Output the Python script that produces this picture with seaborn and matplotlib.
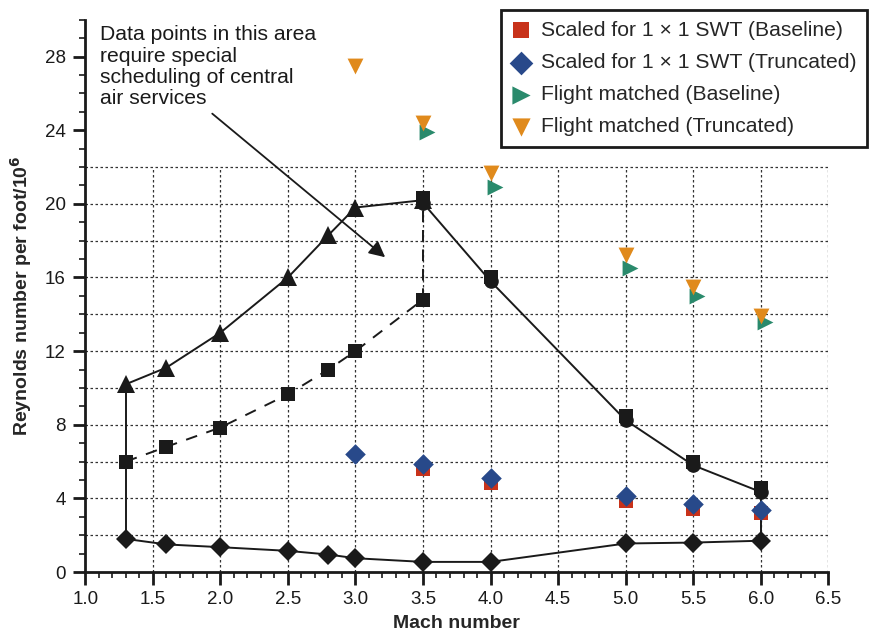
import numpy as np
import matplotlib
matplotlib.use("Agg")
import matplotlib.pyplot as plt
import seaborn as sns
from matplotlib.ticker import MultipleLocator

# boundary curves
mach_low = [1.3, 1.6, 2.0, 2.5, 2.8, 3.0, 3.5, 4.0, 5.0, 5.5, 6.0]
re_low = [1.8, 1.5, 1.35, 1.15, 0.95, 0.75, 0.55, 0.55, 1.55, 1.6, 1.7]

mach_tri = [1.3, 1.6, 2.0, 2.5, 2.8, 3.0, 3.5]
re_tri = [10.2, 11.1, 13.0, 16.0, 18.3, 19.8, 20.2]

mach_sq = [1.3, 1.6, 2.0, 2.5, 2.8, 3.0, 3.5]
re_sq = [6.0, 6.8, 7.85, 9.65, 11.0, 12.0, 14.8]

mach_high = [3.5, 4.0, 5.0, 5.5, 6.0]
re_high_sq = [20.3, 16.05, 8.5, 6.0, 4.55]
re_high_circ = [20.05, 15.8, 8.25, 5.8, 4.35]

# scattered series
mach_sb = [3.5, 4.0, 5.0, 5.5, 6.0]
re_sb = [5.6, 4.85, 3.85, 3.4, 3.2]
mach_st = [3.0, 3.5, 4.0, 5.0, 5.5, 6.0]
re_st = [6.4, 5.85, 5.1, 4.15, 3.7, 3.35]
mach_fb = [3.5, 4.0, 5.0, 5.5, 6.0]
re_fb = [23.9, 20.9, 16.5, 15.0, 13.6]
mach_ft = [3.0, 3.5, 4.0, 5.0, 5.5, 6.0]
re_ft = [27.5, 24.4, 21.7, 17.2, 15.5, 13.9]

note = "Data points in this area\nrequire special\nscheduling of central\nair services"

sns.set_style("ticks")
plt.rcParams["font.family"] = ["Liberation Sans", "DejaVu Sans"]

fig = plt.figure(figsize=(8.7, 6.37), dpi=100)
ax = fig.add_axes([0.098, 0.102, 0.854, 0.867])

# clipped dotted grid
ax.hlines(np.arange(2, 23, 2), 1.0, 6.5, colors="#333333", linestyles=(0, (2, 2)), lw=0.9, zorder=1)
ax.vlines(np.arange(1.5, 6.6, 0.5), 0, 22, colors="#333333", linestyles=(0, (2, 2)), lw=0.9, zorder=1)

k = "#1a1a1a"
lw = 1.4
sns.lineplot(x=mach_low, y=re_low, ax=ax, color=k, lw=lw, marker="D", markersize=10,
             markeredgewidth=0, sort=False, zorder=3)
sns.lineplot(x=mach_tri, y=re_tri, ax=ax, color=k, lw=lw, marker="^", markersize=12.5,
             markeredgewidth=0, sort=False, zorder=3)
sns.lineplot(x=mach_sq, y=re_sq, ax=ax, color=k, lw=lw, marker="s", markersize=10.5,
             markeredgewidth=0, sort=False, zorder=3, linestyle=(0, (6, 5)))
sns.lineplot(x=mach_high, y=re_high_circ, ax=ax, color=k, lw=lw, marker="o", markersize=10.5,
             markeredgewidth=0, sort=False, zorder=3)
ax.plot(mach_high, re_high_sq, ls="none", color=k, marker="s", markersize=10.5, markeredgewidth=0, zorder=3)

# vertical connectors
ax.plot([mach_low[0]] * 2, [re_low[0], re_tri[0]], color=k, lw=lw, zorder=2)
ax.plot([mach_low[-1]] * 2, [re_low[-1], re_high_circ[-1]], color=k, lw=lw, zorder=2)
ax.plot([mach_sq[-1]] * 2, [re_sq[-1], re_high_sq[0]], color=k, lw=lw, ls=(0, (6, 4)), zorder=2)

sns.scatterplot(x=mach_sb, y=re_sb, ax=ax, marker="s", s=110, color="#c8321a", linewidth=0,
                label="Scaled for 1 \u00d7 1 SWT (Baseline)", zorder=4)
sns.scatterplot(x=mach_st, y=re_st, ax=ax, marker="D", s=110, color="#28498a", linewidth=0,
                label="Scaled for 1 \u00d7 1 SWT (Truncated)", zorder=5)
sns.scatterplot(x=[m + 0.03 for m in mach_fb], y=re_fb, ax=ax, marker=">", s=130, color="#2a8a6c",
                linewidth=0, label="Flight matched (Baseline)", zorder=4)
sns.scatterplot(x=mach_ft, y=re_ft, ax=ax, marker="v", s=130, color="#e08a1c", linewidth=0,
                label="Flight matched (Truncated)", zorder=5)

ax.text(1.11, 29.7, note, fontsize=15.2, ha="left", va="top", color=k, linespacing=1.16)
ax.annotate("", xy=(3.22, 17.1), xytext=(1.94, 24.9),
            arrowprops=dict(arrowstyle="-|>", color=k, lw=1.3, mutation_scale=24,
                            shrinkA=0, shrinkB=0))

ax.set_xlim(1.0, 6.5)
ax.set_ylim(0, 30)
ax.xaxis.set_major_locator(MultipleLocator(0.5))
ax.xaxis.set_minor_locator(MultipleLocator(0.1))
ax.yaxis.set_major_locator(MultipleLocator(4))
ax.yaxis.set_minor_locator(MultipleLocator(1))
ax.set_xticks(np.arange(1.0, 6.51, 0.5))
ax.set_xticklabels([f"{v:.1f}" for v in np.arange(1.0, 6.51, 0.5)])
ax.set_yticks(np.arange(0, 29, 4))
ax.tick_params(which="major", direction="out", length=9, width=2, labelsize=13.5, colors=k, pad=5)
ax.tick_params(which="minor", direction="out", length=4.5, width=1.2, colors=k)
for s in ["top", "right"]:
    ax.spines[s].set_visible(False)
for s in ["left", "bottom"]:
    ax.spines[s].set_linewidth(2)
    ax.spines[s].set_color(k)

ax.set_xlabel("Mach number", fontsize=14, fontweight="bold", labelpad=5)
ax.set_ylabel("Reynolds number per foot/10$^\\mathbf{6}$", fontsize=14, fontweight="bold", labelpad=8)

leg = ax.legend(loc="upper right", bbox_to_anchor=(1.067, 1.036), fontsize=15.2, frameon=True,
                fancybox=False, edgecolor=k, handletextpad=0.5, borderpad=0.5,
                labelspacing=0.62, handlelength=0.9, markerscale=1.15)
leg.get_frame().set_linewidth(2)
leg.get_frame().set_alpha(1)

fig.savefig("out.png", dpi=100)
